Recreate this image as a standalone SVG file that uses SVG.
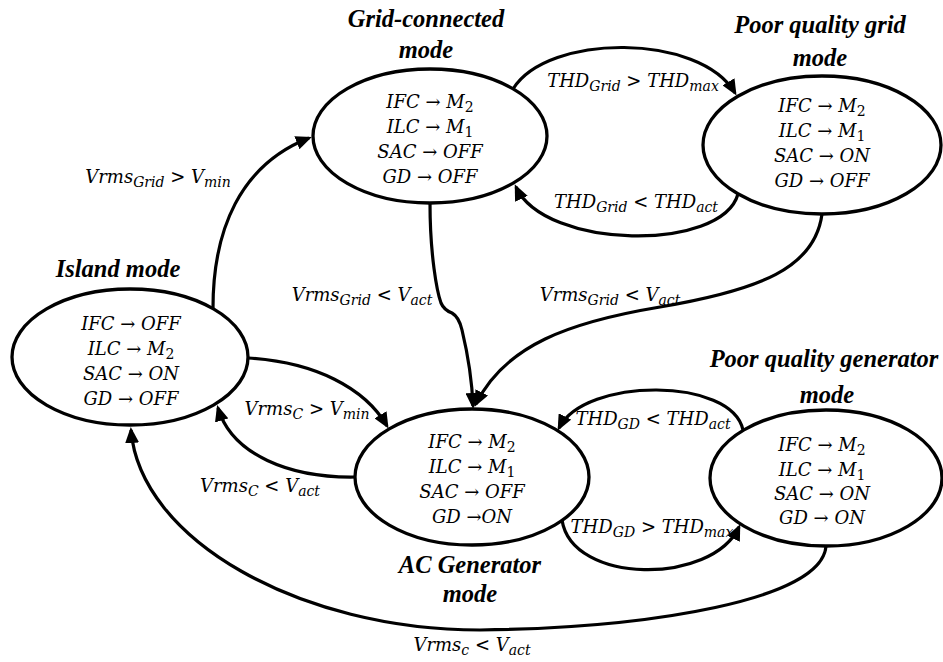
<svg xmlns="http://www.w3.org/2000/svg" width="943" height="662" viewBox="0 0 943 662">
  <defs>
    <marker id="arr" markerUnits="userSpaceOnUse" markerWidth="16" markerHeight="14" refX="13" refY="7" orient="auto">
      <path d="M0,0 L16,7 L0,14 z" fill="#000"/>
    </marker>
  </defs>
  <style>
    .st{fill:#fff;stroke:#000;stroke-width:3.3}
    .cn{fill:none;stroke:#000;stroke-width:3.2;marker-end:url(#arr)}
    .m{font-family:"DejaVu Serif","Liberation Serif",serif;font-style:italic;font-size:18px;fill:#000;text-anchor:middle}
    .ttl{font-family:"Liberation Serif",serif;font-style:italic;font-weight:bold;font-size:24.5px;fill:#000;text-anchor:middle}
    .u{font-style:normal}
    .s{font-size:14px}
  </style>
  <rect width="943" height="662" fill="#fff"/>

  <!-- states -->
  <g id="grid-connected">
    <ellipse class="st" cx="430" cy="136" rx="117" ry="67"/>
    <text class="ttl" x="426" y="27">Grid-connected</text>
    <text class="ttl" x="426" y="58">mode</text>
    <text class="m" x="430" y="108">IFC <tspan class="u">→</tspan> M<tspan class="s u" dy="4">2</tspan></text>
    <text class="m" x="430" y="133">ILC <tspan class="u">→</tspan> M<tspan class="s u" dy="4">1</tspan></text>
    <text class="m" x="430" y="158">SAC <tspan class="u">→</tspan> OFF</text>
    <text class="m" x="430" y="183">GD <tspan class="u">→</tspan> OFF</text>
  </g>

  <g id="poor-grid">
    <ellipse class="st" cx="822" cy="145" rx="119" ry="69"/>
    <text class="ttl" x="820" y="33">Poor quality grid</text>
    <text class="ttl" x="820" y="66">mode</text>
    <text class="m" x="822" y="112">IFC <tspan class="u">→</tspan> M<tspan class="s u" dy="4">2</tspan></text>
    <text class="m" x="822" y="137">ILC <tspan class="u">→</tspan> M<tspan class="s u" dy="4">1</tspan></text>
    <text class="m" x="822" y="162">SAC <tspan class="u">→</tspan> ON</text>
    <text class="m" x="822" y="187">GD <tspan class="u">→</tspan> OFF</text>
  </g>

  <g id="island">
    <ellipse class="st" cx="130" cy="357" rx="118" ry="68"/>
    <text class="ttl" x="118" y="277">Island mode</text>
    <text class="m" x="131" y="330">IFC <tspan class="u">→</tspan> OFF</text>
    <text class="m" x="131" y="355">ILC <tspan class="u">→</tspan> M<tspan class="s u" dy="4">2</tspan></text>
    <text class="m" x="131" y="380">SAC <tspan class="u">→</tspan> ON</text>
    <text class="m" x="131" y="405">GD <tspan class="u">→</tspan> OFF</text>
  </g>

  <g id="ac-generator">
    <ellipse class="st" cx="472" cy="477" rx="117" ry="68"/>
    <text class="ttl" x="470" y="573">AC Generator</text>
    <text class="ttl" x="470" y="602">mode</text>
    <text class="m" x="472" y="448">IFC <tspan class="u">→</tspan> M<tspan class="s u" dy="4">2</tspan></text>
    <text class="m" x="472" y="473">ILC <tspan class="u">→</tspan> M<tspan class="s u" dy="4">1</tspan></text>
    <text class="m" x="472" y="498">SAC <tspan class="u">→</tspan> OFF</text>
    <text class="m" x="472" y="523">GD <tspan class="u">→</tspan>ON</text>
  </g>

  <g id="poor-generator">
    <ellipse class="st" cx="826" cy="478" rx="116" ry="68"/>
    <text class="ttl" x="824" y="367">Poor quality generator</text>
    <text class="ttl" x="827" y="403">mode</text>
    <text class="m" x="822" y="451">IFC <tspan class="u">→</tspan> M<tspan class="s u" dy="4">2</tspan></text>
    <text class="m" x="822" y="476">ILC <tspan class="u">→</tspan> M<tspan class="s u" dy="4">1</tspan></text>
    <text class="m" x="822" y="500">SAC <tspan class="u">→</tspan> ON</text>
    <text class="m" x="822" y="524">GD <tspan class="u">→</tspan> ON</text>
  </g>

  <!-- transitions -->
  <g id="transitions">
    <path class="cn" d="M213,308 C213,230 240,165 309,138"/>
    <text class="m" x="158" y="183">Vrms<tspan class="s" dy="4">Grid</tspan><tspan class="u" dy="-4"> &gt;  </tspan>V<tspan class="s" dy="4">min</tspan></text>

    <path class="cn" d="M513,89 C548,33 700,33 735,93"/>
    <text class="m" x="633" y="87">THD<tspan class="s" dy="4">Grid</tspan><tspan class="u" dy="-4"> &gt; </tspan>THD<tspan class="s" dy="4">max</tspan></text>

    <path class="cn" d="M738,194 C722,252 545,250 516,187"/>
    <text class="m" x="636" y="208">THD<tspan class="s" dy="4">Grid</tspan><tspan class="u" dy="-4"> &lt; </tspan>THD<tspan class="s" dy="4">act</tspan></text>

    <path class="cn" d="M430,203 C430,255 437,292 441,303 Q444,310 452,313 Q459,317 462,330 C468,355 472,380 473,406"/>
    <text class="m" x="362" y="301">Vrms<tspan class="s" dy="4">Grid</tspan><tspan class="u" dy="-4"> &lt; </tspan>V<tspan class="s" dy="4">act</tspan></text>

    <path class="cn" d="M822,214 C815,268 760,290 660,307 C570,322 505,345 476,404"/>
    <text class="m" x="610" y="301">Vrms<tspan class="s" dy="4">Grid</tspan><tspan class="u" dy="-4"> &lt; </tspan>V<tspan class="s" dy="4">act</tspan></text>

    <path class="cn" d="M248,358 C315,362 365,388 387,426"/>
    <text class="m" x="307" y="415">Vrms<tspan class="s" dy="4">C</tspan><tspan class="u" dy="-4"> &gt; </tspan>V<tspan class="s" dy="4">min</tspan></text>

    <path class="cn" d="M355,477 C290,478 232,455 218,408"/>
    <text class="m" x="260" y="492">Vrms<tspan class="s" dy="4">C</tspan><tspan class="u" dy="-4"> &lt; </tspan>V<tspan class="s" dy="4">act</tspan></text>

    <path class="cn" d="M562,520 C572,585 712,585 739,527"/>
    <text class="m" x="652" y="533">THD<tspan class="s" dy="4">GD</tspan><tspan class="u" dy="-4"> &gt; </tspan>THD<tspan class="s" dy="4">max</tspan></text>

    <path class="cn" d="M743,430 C732,377 585,377 559,428"/>
    <text class="m" x="653" y="425">THD<tspan class="s" dy="4">GD</tspan><tspan class="u" dy="-4"> &lt; </tspan>THD<tspan class="s" dy="4">act</tspan></text>

    <path class="cn" d="M826,546 C822,600 650,628 480,630 C300,630 140,540 131,430"/>
    <text class="m" x="472" y="651">Vrms<tspan class="s" dy="4">c</tspan><tspan class="u" dy="-4"> &lt; </tspan>V<tspan class="s" dy="4">act</tspan></text>
  </g>
</svg>
